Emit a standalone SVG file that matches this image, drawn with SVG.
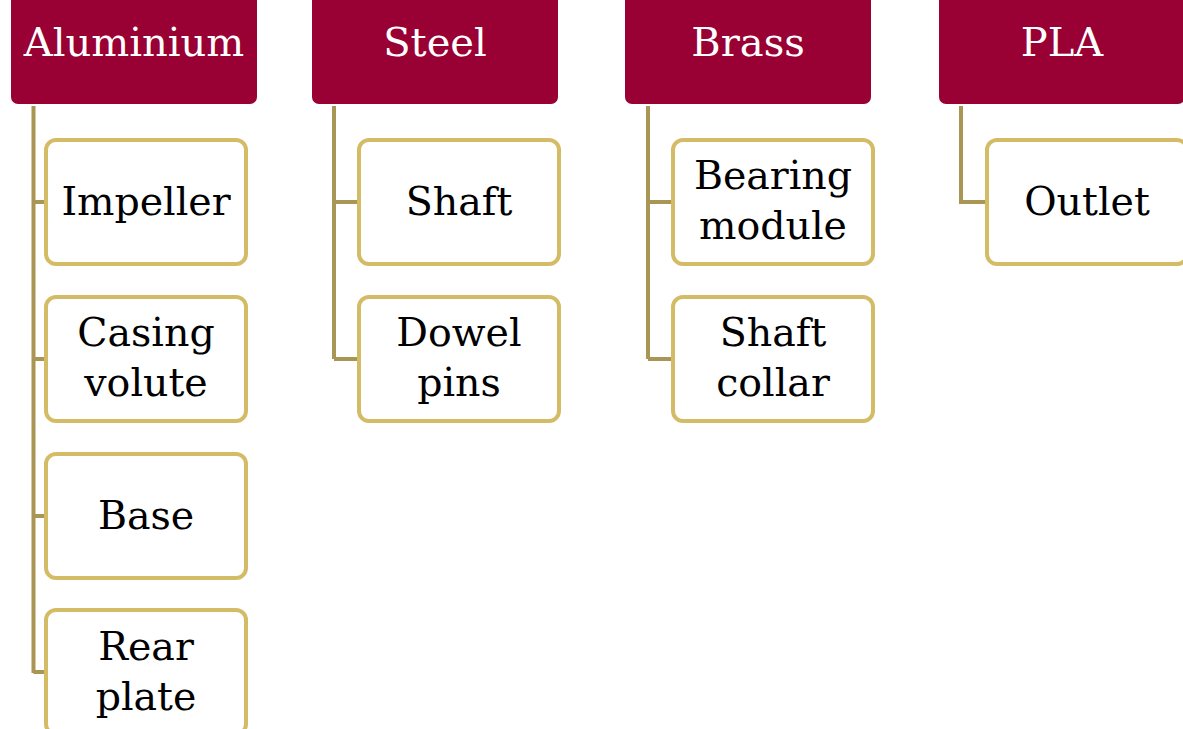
<svg xmlns="http://www.w3.org/2000/svg" width="1183" height="729" viewBox="0 0 1183 729">
  <style>
    .hdr { fill: #990033; }
    .hdr-t { fill: #ffffff; font-family: "DejaVu Serif", "Liberation Serif", serif; font-size: 40px; text-anchor: middle; }
    .item { fill: #ffffff; stroke: #D4BC66; stroke-width: 4; }
    .item-t { fill: #000000; font-family: "DejaVu Serif", "Liberation Serif", serif; font-size: 39.5px; text-anchor: middle; }
    .link { fill: none; stroke: #A99655; stroke-width: 4; }
  </style>

  <!-- connectors: one trunk per material, stubs to each part -->
  <g id="connectors">
    <path class="link" d="M33.5 106 V673 M33.5 202 H46 M33.5 359 H46 M33.5 516 H46 M33.5 672 H46"/>
    <path class="link" d="M334 106 V359 M334 202 H359 M334 359 H359"/>
    <path class="link" d="M648 106 V359 M648 202 H673 M648 359 H673"/>
    <path class="link" d="M961 106 V202 H987"/>
  </g>

  <!-- material headers -->
  <g id="aluminium">
    <rect class="hdr" x="11" y="-20" width="246" height="124" rx="7"/>
    <text class="hdr-t" x="134" y="56">Aluminium</text>
  </g>
  <g id="steel">
    <rect class="hdr" x="312" y="-20" width="246" height="124" rx="7"/>
    <text class="hdr-t" x="435" y="56">Steel</text>
  </g>
  <g id="brass">
    <rect class="hdr" x="625" y="-20" width="246" height="124" rx="7"/>
    <text class="hdr-t" x="748" y="56">Brass</text>
  </g>
  <g id="pla">
    <rect class="hdr" x="939" y="-20" width="246" height="124" rx="7"/>
    <text class="hdr-t" x="1062" y="56">PLA</text>
  </g>

  <!-- aluminium parts -->
  <g id="impeller">
    <rect class="item" x="46" y="140" width="200" height="124" rx="10"/>
    <text class="item-t" x="146" y="215">Impeller</text>
  </g>
  <g id="casing-volute">
    <rect class="item" x="46" y="297" width="200" height="124" rx="10"/>
    <text class="item-t" x="146" y="346">Casing</text>
    <text class="item-t" x="146" y="396">volute</text>
  </g>
  <g id="base">
    <rect class="item" x="46" y="454" width="200" height="124" rx="10"/>
    <text class="item-t" x="146" y="529">Base</text>
  </g>
  <g id="rear-plate">
    <rect class="item" x="46" y="610" width="200" height="124" rx="10"/>
    <text class="item-t" x="146" y="660">Rear</text>
    <text class="item-t" x="146" y="710">plate</text>
  </g>

  <!-- steel parts -->
  <g id="shaft">
    <rect class="item" x="359" y="140" width="200" height="124" rx="10"/>
    <text class="item-t" x="459" y="215">Shaft</text>
  </g>
  <g id="dowel-pins">
    <rect class="item" x="359" y="297" width="200" height="124" rx="10"/>
    <text class="item-t" x="459" y="346">Dowel</text>
    <text class="item-t" x="459" y="396">pins</text>
  </g>

  <!-- brass parts -->
  <g id="bearing-module">
    <rect class="item" x="673" y="140" width="200" height="124" rx="10"/>
    <text class="item-t" x="773" y="189">Bearing</text>
    <text class="item-t" x="773" y="239">module</text>
  </g>
  <g id="shaft-collar">
    <rect class="item" x="673" y="297" width="200" height="124" rx="10"/>
    <text class="item-t" x="773" y="346">Shaft</text>
    <text class="item-t" x="773" y="396">collar</text>
  </g>

  <!-- PLA parts -->
  <g id="outlet">
    <rect class="item" x="987" y="140" width="200" height="124" rx="10"/>
    <text class="item-t" x="1087" y="215">Outlet</text>
  </g>
</svg>
